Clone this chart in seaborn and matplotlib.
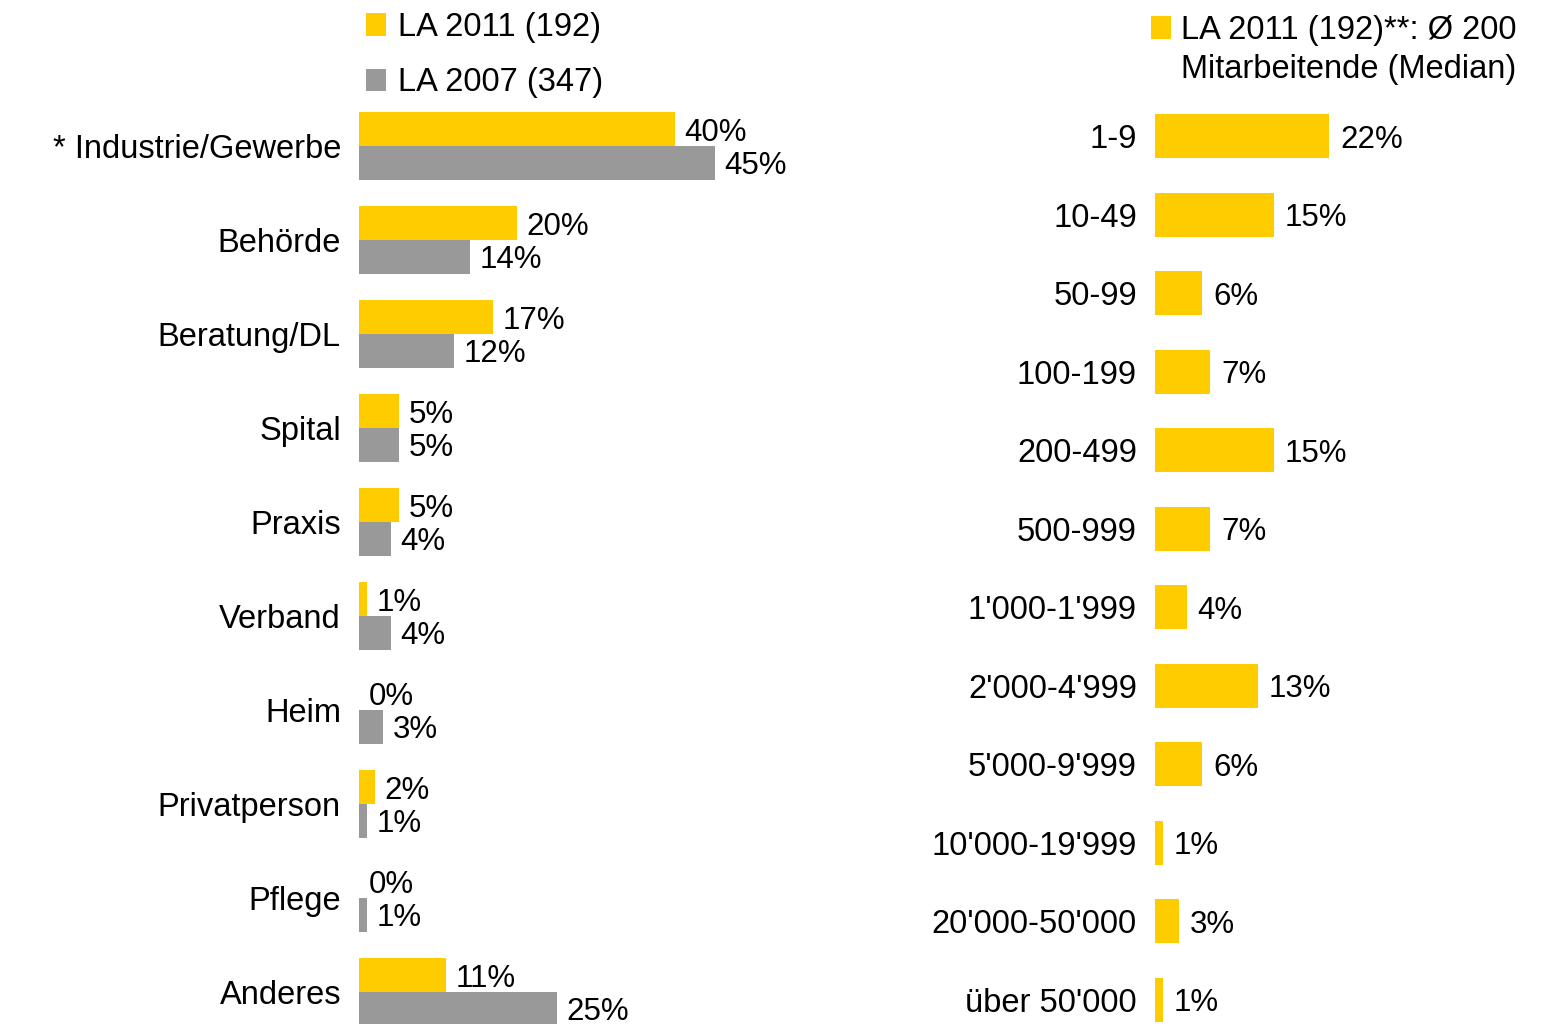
import matplotlib.pyplot as plt
import pandas as pd
import seaborn as sns
from matplotlib.patches import Patch

# Daten: Branchen (links)
branchen = ['* Industrie/Gewerbe', 'Behörde', 'Beratung/DL', 'Spital', 'Praxis',
            'Verband', 'Heim', 'Privatperson', 'Pflege', 'Anderes']
la_2011 = [40, 20, 17, 5, 5, 1, 0, 2, 0, 11]
la_2007 = [45, 14, 12, 5, 4, 4, 3, 1, 1, 25]
serien = ['LA 2011 (192)', 'LA 2007 (347)']

# Daten: Betriebsgrösse (rechts)
groessen = ['1-9', '10-49', '50-99', '100-199', '200-499', '500-999',
            "1'000-1'999", "2'000-4'999", "5'000-9'999", "10'000-19'999",
            "20'000-50'000", "über 50'000"]
groessen_2011 = [22, 15, 6, 7, 15, 7, 4, 13, 6, 1, 3, 1]
groessen_label = ['LA 2011 (192)**: Ø 200', 'Mitarbeitende (Median)']

gelb = '#FFCC00'
grau = '#999999'
fs_text = 23.5
fs_wert = 22.5

sns.set_style('white')
plt.rcParams['font.family'] = ['Liberation Sans', 'DejaVu Sans']
plt.rcParams['text.color'] = 'black'
plt.rcParams['ytick.color'] = 'black'
plt.rcParams['ytick.labelcolor'] = 'black'

W, H = 1548, 1024
fig = plt.figure(figsize=(W / 100, H / 100), dpi=100)

# 1. Branchen
ax1 = fig.add_axes([359 / W, 0, 474 / W, (H - 99) / H])
df = pd.DataFrame({
    'Branche': branchen * 2,
    'Anteil': la_2011 + la_2007,
    'Serie': [serien[0]] * len(branchen) + [serien[1]] * len(branchen),
})
sns.barplot(data=df, y='Branche', x='Anteil', hue='Serie', hue_order=serien,
            palette=[gelb, grau], orient='h', width=0.72, saturation=1,
            linewidth=0, ax=ax1)
ax1.set_xlim(0, 60)
ax1.set_ylim(9.34, -0.5)
for c in ax1.containers:
    for t in ax1.bar_label(c, labels=[f'{int(v)}%' for v in c.datavalues], padding=7,
                           fontsize=fs_wert, color='black'):
        t.set_va('center_baseline')

sns.move_legend(ax1, 'upper left', bbox_to_anchor=(366 / W, 1 - 12 / H),
                bbox_transform=fig.transFigure, frameon=False, title=None,
                fontsize=fs_text, handlelength=0.62, handleheight=0.7, handletextpad=0.35,
                labelspacing=0.75, borderaxespad=0, borderpad=0)

# 2. Betriebsgrösse
ax2 = fig.add_axes([1155 / W, 0, 316 / W, (H - 96.75) / H])
df2 = pd.DataFrame({'Groesse': groessen, 'Anteil': groessen_2011})
sns.barplot(data=df2, y='Groesse', x='Anteil', color=gelb, orient='h',
            width=0.56, saturation=1, linewidth=0, ax=ax2)
ax2.set_xlim(0, 40)
ax2.set_ylim(11.31, -0.5)
for c in ax2.containers:
    for t in ax2.bar_label(c, labels=[f'{int(v)}%' for v in c.datavalues], padding=8,
                           fontsize=fs_wert, color='black'):
        t.set_va('center_baseline')

handles = [Patch(facecolor=gelb, linewidth=0), Patch(facecolor='none', edgecolor='none')]
ax2.legend(handles, groessen_label, loc='upper left', bbox_to_anchor=(1151 / W, 1 - 15 / H),
           bbox_transform=fig.transFigure, frameon=False, fontsize=fs_text,
           handlelength=0.62, handleheight=0.7, handletextpad=0.3,
           labelspacing=0.25, borderaxespad=0, borderpad=0)

for ax in (ax1, ax2):
    ax.set_xlabel('')
    ax.set_ylabel('')
    ax.set_xticks([])
    ax.tick_params(axis='y', length=0, pad=13, labelsize=fs_text, labelcolor='black')
    for s in ax.spines.values():
        s.set_visible(False)

plt.savefig('out.png', dpi=100)
